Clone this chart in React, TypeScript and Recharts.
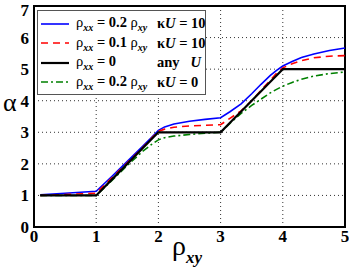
import { CartesianGrid, Line, LineChart, ReferenceArea, ReferenceLine, XAxis, YAxis } from "recharts";

// rho_xy sample points shared by all four curves
const rhoXY = [0.1, 0.5, 1, 1.25, 1.5, 1.75, 1.9, 2, 2.1, 2.25, 2.5, 2.75, 3, 3.15, 3.33, 3.5, 3.65, 3.8, 3.9, 4, 4.15, 4.3, 4.5, 4.75, 5];

// rho_xx = 0.2 rho_xy, kU = 10
const alphaBlue = [1.02, 1.07, 1.13, 1.6, 2.08, 2.56, 2.86, 3.06, 3.17, 3.26, 3.35, 3.41, 3.46, 3.65, 3.9, 4.22, 4.52, 4.8, 4.96, 5.1, 5.24, 5.37, 5.48, 5.59, 5.67];
// rho_xx = 0.1 rho_xy, kU = 10
const alphaRed = [1.0, 1.03, 1.07, 1.55, 2.03, 2.52, 2.83, 3.03, 3.1, 3.16, 3.2, 3.22, 3.24, 3.44, 3.68, 4.0, 4.33, 4.65, 4.87, 5.04, 5.17, 5.27, 5.36, 5.41, 5.43];
// rho_xx = 0, any U
const alphaBlack = [1, 1, 1, 1.5, 2, 2.5, 2.8, 3, 3, 3, 3, 3, 3, 3.3, 3.66, 4, 4.3, 4.6, 4.8, 5, 5, 5, 5, 5, 5];
// rho_xx = 0.2 rho_xy, kU = 0
const alphaGreen = [1, 1, 1, 1.47, 1.95, 2.4, 2.63, 2.76, 2.83, 2.88, 2.93, 2.97, 3.0, 3.28, 3.6, 3.85, 4.05, 4.25, 4.36, 4.46, 4.58, 4.68, 4.78, 4.86, 4.91];

const xTicks = [0, 1, 2, 3, 4, 5];
const yTicks = [0, 1, 2, 3, 4, 5, 6];
// top tick label sits on the frame edge, drawn as a reference-line label
const yTopTick = 7;
const xMinorTicks = [0.2, 0.4, 0.6, 0.8, 1.2, 1.4, 1.6, 1.8, 2.2, 2.4, 2.6, 2.8, 3.2, 3.4, 3.6, 3.8, 4.2, 4.4, 4.6, 4.8];
const yMinorTicks = [0.2, 0.4, 0.6, 0.8, 1.2, 1.4, 1.6, 1.8, 2.2, 2.4, 2.6, 2.8, 3.2, 3.4, 3.6, 3.8, 4.2, 4.4, 4.6, 4.8, 5.2, 5.4, 5.6, 5.8, 6.2, 6.4, 6.6, 6.8];

const data = rhoXY.map((x, i) => ({
	x,
	blue: alphaBlue[i],
	red: alphaRed[i],
	black: alphaBlack[i],
	green: alphaGreen[i],
}));

const serif = '"Liberation Serif", "DejaVu Serif", serif';
const tickStyle = { fontSize: 17, fontWeight: 700, fill: "#000", fontFamily: serif };

interface Entry {
	color: string;
	dash?: string;
	width: number;
	coef: string | null;
	right: React.ReactNode;
}

const legendEntries: Entry[] = [
	{ color: "#0000ff", width: 1.6, coef: "0.2", right: <>κ<i>U</i> = 10</> },
	{ color: "#ff0000", dash: "7 5", width: 1.6, coef: "0.1", right: <>κ<i>U</i> = 10</> },
	{ color: "#000000", width: 2.2, coef: null, right: <>any&nbsp;&nbsp; <i>U</i></> },
	{ color: "#008000", dash: "7 3 2 3", width: 1.6, coef: "0.2", right: <>κ<i>U</i> = 0</> },
];

function Rho({ sub }: { sub: string }) {
	return (
		<span>
			<span style={{ fontWeight: 400 }}>ρ</span>
			<sub style={{ fontSize: 10, fontStyle: "italic", verticalAlign: "-4px" }}>{sub}</sub>
		</span>
	);
}

function LegendBox() {
	return (
		<div
			style={{
				position: "absolute",
				left: 37,
				top: 10,
				width: 169,
				height: 85,
				border: "1.5px solid #555",
				background: "#fff",
				fontFamily: serif,
				fontWeight: 700,
				fontSize: 14.5,
				color: "#000",
				boxSizing: "border-box",
			}}
		>
			{legendEntries.map((e, i) => (
				<div key={i} style={{ position: "absolute", left: 3, top: 3 + i * 19.5, height: 19, width: 166, display: "flex", alignItems: "center" }}>
					<svg width={28} height={10} style={{ flex: "none" }}>
						<line x1={0} y1={5} x2={28} y2={5} stroke={e.color} strokeWidth={e.width} strokeDasharray={e.dash} />
					</svg>
					<span style={{ marginLeft: 7, width: 81, whiteSpace: "nowrap" }}>
						<Rho sub="xx" /> = {e.coef ?? "0"}
						{e.coef && (
							<>
								{" "}
								<Rho sub="xy" />
							</>
						)}
					</span>
					<span style={{ whiteSpace: "nowrap" }}>{e.right}</span>
				</div>
			))}
		</div>
	);
}

export default function App() {
	return (
		<div style={{ position: "relative", width: 349, height: 268, background: "#fff" }}>
			<style>{"body{margin:0}"}</style>
			<LineChart width={349} height={268} data={data} margin={{ top: 6, right: 4, bottom: 0, left: 0 }}>
				<CartesianGrid stroke="#333" strokeDasharray="1 3" />
				<XAxis
					dataKey="x"
					type="number"
					domain={[0, 5]}
					ticks={xTicks}
					interval={0}
					height={41}
					tickSize={0}
					tickMargin={3}
					tickLine={false}
					axisLine={false}
					tick={tickStyle}
				/>
				<YAxis
					type="number"
					domain={[0, 7]}
					ticks={yTicks}
					interval={0}
					width={34}
					tickSize={0}
					tickMargin={5}
					tickLine={false}
					axisLine={false}
					tick={tickStyle}
				/>
				{/* minor ticks, drawn inward on all four sides */}
				<XAxis xAxisId="mb" type="number" domain={[0, 5]} ticks={xMinorTicks} interval={0} orientation="bottom" mirror height={0} tickSize={3} tick={false} axisLine={false} tickLine={{ stroke: "#555" }} />
				<XAxis xAxisId="mt" type="number" domain={[0, 5]} ticks={xMinorTicks} interval={0} orientation="top" mirror height={0} tickSize={3} tick={false} axisLine={false} tickLine={{ stroke: "#555" }} />
				<YAxis yAxisId="ml" type="number" domain={[0, 7]} ticks={yMinorTicks} interval={0} orientation="left" mirror width={0} tickSize={3} tick={false} axisLine={false} tickLine={{ stroke: "#555" }} />
				<YAxis yAxisId="mr" type="number" domain={[0, 7]} ticks={yMinorTicks} interval={0} orientation="right" mirror width={0} tickSize={3} tick={false} axisLine={false} tickLine={{ stroke: "#555" }} />
				<Line type="linear" dataKey="blue" stroke="#0000ff" strokeWidth={1.6} dot={false} isAnimationActive={false} />
				<Line type="linear" dataKey="red" stroke="#ff0000" strokeWidth={1.6} strokeDasharray="7 5" dot={false} isAnimationActive={false} />
				<Line type="linear" dataKey="green" stroke="#008000" strokeWidth={1.6} strokeDasharray="7 3 2 3" dot={false} isAnimationActive={false} />
				<Line type="linear" dataKey="black" stroke="#000000" strokeWidth={2.2} dot={false} isAnimationActive={false} />
				<ReferenceArea x1={0} x2={5} y1={0} y2={7} fill="none" stroke="#000" strokeWidth={2} ifOverflow="visible" />
				<ReferenceLine
					y={yTopTick}
					stroke="none"
					ifOverflow="visible"
					label={{ value: String(yTopTick), position: "left", offset: 5, dy: 4, ...tickStyle }}
				/>
			</LineChart>
			<LegendBox />
			<div style={{ position: "absolute", left: 3, top: 88, fontFamily: serif, fontSize: 26, lineHeight: "30px" }}>α</div>
			<div style={{ position: "absolute", left: 172, top: 230, fontFamily: serif, fontSize: 28, lineHeight: "32px", whiteSpace: "nowrap" }}>
				ρ<span style={{ fontSize: 17, fontWeight: 700, fontStyle: "italic", position: "relative", top: 8 }}>xy</span>
			</div>
		</div>
	);
}
